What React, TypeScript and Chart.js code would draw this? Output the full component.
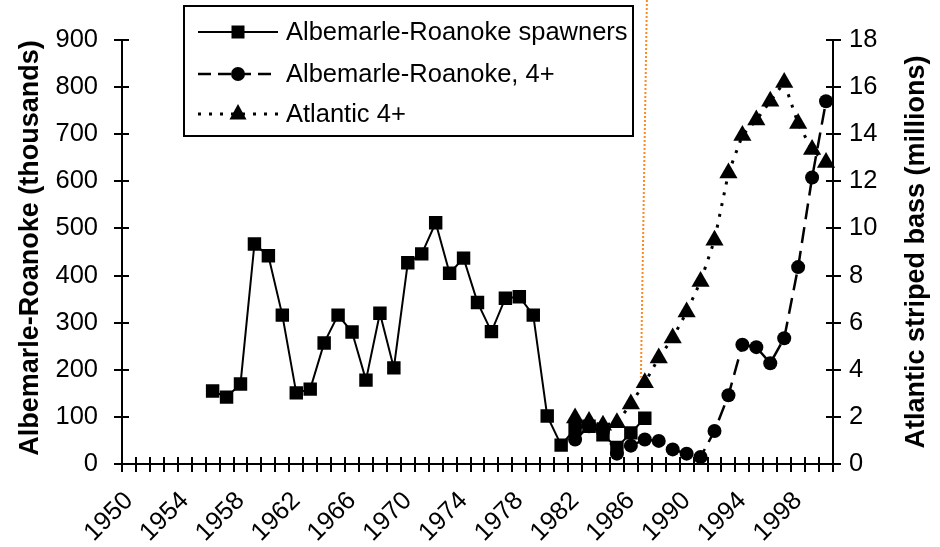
import React, { useEffect, useRef } from 'react';
import { Chart, registerables } from 'chart.js';

Chart.register(...registerables);

const FIRST_YEAR = 1950;
const LAST_YEAR = 2000;
const YEARS: string[] = Array.from({ length: LAST_YEAR - FIRST_YEAR + 1 }, (_, i) => String(FIRST_YEAR + i));
const SHOWN_YEAR_LABELS = ['1950', '1954', '1958', '1962', '1966', '1970', '1974', '1978', '1982', '1986', '1990', '1994', '1998'];

const LEFT_TICKS = [0, 100, 200, 300, 400, 500, 600, 700, 800, 900];
const RIGHT_TICKS = [0, 2, 4, 6, 8, 10, 12, 14, 16, 18];

// Albemarle-Roanoke spawners (thousands), 1956-1987
const SPAWNERS_START = 1956;
const SPAWNERS = [155, 142, 170, 467, 442, 316, 151, 159, 257, 316, 280, 178, 320, 204, 427, 446, 512, 405, 437, 343, 281, 352, 355, 316, 102, 40, 75, 80, 62, 35, 66, 97];

// Albemarle-Roanoke 4+ (thousands), 1982-2000
const AR4_START = 1982;
const AR4 = [52, 80, 70, 22, 39, 52, 49, 31, 22, 15, 70, 146, 253, 248, 214, 267, 418, 608, 770];

// Atlantic 4+ (millions), 1982-2000
const ATL_START = 1982;
const ATL = [1.95, 1.8, 1.65, 1.75, 2.55, 3.45, 4.5, 5.35, 6.45, 7.75, 9.5, 12.35, 13.95, 14.6, 15.4, 16.2, 14.45, 13.35, 12.8];

const LEGEND_LABELS = ['Albemarle-Roanoke spawners', 'Albemarle-Roanoke, 4+', 'Atlantic 4+'];
const LEFT_TITLE = 'Albemarle-Roanoke (thousands)';
const RIGHT_TITLE = 'Atlantic striped bass (millions)';

// orange dotted marker line: category index at top / bottom, and bottom value (left axis)
const MARK_TOP_INDEX = 37.15;
const MARK_BOTTOM_INDEX = 36.72;
const MARK_BOTTOM_VALUE = 183;

const FONT = "'Liberation Sans', Arial, Helvetica, sans-serif";

function place(start: number, values: number[]): (number | null)[] {
  const arr: (number | null)[] = YEARS.map(() => null);
  values.forEach((v, i) => {
    arr[start - FIRST_YEAR + i] = v;
  });
  return arr;
}

function drawMarker(ctx: CanvasRenderingContext2D, kind: string, x: number, y: number) {
  ctx.beginPath();
  if (kind === 'rect') {
    ctx.rect(x - 6.5, y - 6.5, 13, 13);
  } else if (kind === 'circle') {
    ctx.arc(x, y, 7, 0, Math.PI * 2);
  } else {
    ctx.moveTo(x, y - 10);
    ctx.lineTo(x + 8.5, y + 5.5);
    ctx.lineTo(x - 8.5, y + 5.5);
    ctx.closePath();
  }
  ctx.fill();
}

const decorPlugin = {
  id: 'decor',
  afterDraw(chart: any) {
    const ctx: CanvasRenderingContext2D = chart.ctx;
    const xs = chart.scales.x;
    const yl = chart.scales.y;
    const yr = chart.scales.y2;
    const area = chart.chartArea;
    ctx.save();
    // tick marks crossing the axes
    ctx.strokeStyle = '#000';
    ctx.lineWidth = 2;
    ctx.setLineDash([]);
    ctx.beginPath();
    LEFT_TICKS.forEach((v) => {
      const py = Math.round(yl.getPixelForValue(v));
      ctx.moveTo(area.left - 8, py);
      ctx.lineTo(area.left + 7, py);
    });
    RIGHT_TICKS.forEach((v) => {
      const py = Math.round(yr.getPixelForValue(v));
      ctx.moveTo(area.right - 7, py);
      ctx.lineTo(area.right + 8, py);
    });
    const n = YEARS.length;
    for (let i = 0; i <= n; i++) {
      const px = Math.round(xs.getPixelForValue(i - 0.5));
      ctx.moveTo(px, area.bottom - 7);
      ctx.lineTo(px, area.bottom + 8);
    }
    ctx.stroke();

    // orange dotted line
    ctx.strokeStyle = '#FF8A1C';
    ctx.lineWidth = 2;
    ctx.setLineDash([2, 2]);
    ctx.beginPath();
    ctx.moveTo(xs.getPixelForValue(MARK_TOP_INDEX), 0);
    ctx.lineTo(xs.getPixelForValue(MARK_BOTTOM_INDEX), yl.getPixelForValue(MARK_BOTTOM_VALUE));
    ctx.stroke();
    ctx.setLineDash([]);

    // axis titles
    ctx.fillStyle = '#000';
    ctx.font = `bold 27px ${FONT}`;
    ctx.textAlign = 'center';
    ctx.textBaseline = 'middle';
    const midY = (area.top + area.bottom) / 2;
    ctx.save();
    ctx.translate(31, midY - 4);
    ctx.rotate(-Math.PI / 2);
    ctx.fillText(LEFT_TITLE, 0, 0);
    ctx.restore();
    ctx.save();
    ctx.translate(917, midY);
    ctx.rotate(-Math.PI / 2);
    ctx.fillText(RIGHT_TITLE, 0, 0);
    ctx.restore();

    // legend box
    const bx = 184, by = 6, bw = 449, bh = 130;
    ctx.fillStyle = '#fff';
    ctx.fillRect(bx, by, bw, bh);
    ctx.strokeStyle = '#000';
    ctx.lineWidth = 2;
    ctx.strokeRect(bx, by, bw, bh);
    const rows = [32, 74, 114];
    const dashes = [[], [13, 7], [3, 8]];
    const widths = [2, 2.5, 3];
    const kinds = ['rect', 'circle', 'triangle'];
    rows.forEach((ry, i) => {
      ctx.strokeStyle = '#000';
      ctx.lineWidth = widths[i];
      ctx.setLineDash(dashes[i]);
      ctx.beginPath();
      ctx.moveTo(198, ry);
      ctx.lineTo(278, ry);
      ctx.stroke();
      ctx.setLineDash([]);
      ctx.fillStyle = '#000';
      drawMarker(ctx, kinds[i], 238, ry);
      ctx.font = `25.5px ${FONT}`;
      ctx.textAlign = 'left';
      ctx.textBaseline = 'middle';
      ctx.fillText(LEGEND_LABELS[i], 286, ry + 1);
    });
    ctx.restore();
  },
};

export default function App() {
  const canvasRef = useRef<HTMLCanvasElement | null>(null);

  useEffect(() => {
    document.body.style.margin = '0';
    const canvas = canvasRef.current;
    if (!canvas) return;
    const tickFont = { family: FONT, size: 25.5 };
    const chart = new Chart(canvas, {
      type: 'line',
      data: {
        labels: YEARS,
        datasets: [
          {
            label: LEGEND_LABELS[0],
            data: place(SPAWNERS_START, SPAWNERS),
            yAxisID: 'y',
            borderColor: '#000',
            backgroundColor: '#000',
            borderWidth: 2,
            pointStyle: 'rect',
            pointRadius: 9.5,
            pointBorderWidth: 0,
            tension: 0,
            spanGaps: false,
          },
          {
            label: LEGEND_LABELS[1],
            data: place(AR4_START, AR4),
            yAxisID: 'y',
            borderColor: '#000',
            backgroundColor: '#000',
            borderWidth: 2.5,
            borderDash: [16, 8],
            pointStyle: 'circle',
            pointRadius: 7,
            pointBorderWidth: 0,
            tension: 0,
          },
          {
            label: LEGEND_LABELS[2],
            data: place(ATL_START, ATL),
            yAxisID: 'y2',
            borderColor: '#000',
            backgroundColor: '#000',
            borderWidth: 3,
            borderDash: [3, 8],
            pointStyle: 'triangle',
            pointRadius: 10.5,
            pointBorderWidth: 0,
            tension: 0,
          },
        ],
      },
      options: {
        responsive: false,
        animation: false,
        layout: { padding: { top: 40, left: 0, right: 0, bottom: 0 } },
        plugins: {
          legend: { display: false },
          tooltip: { enabled: false },
        },
        scales: {
          x: {
            type: 'category',
            offset: true,
            grid: { display: false },
            border: { display: true, color: '#000', width: 2 },
            ticks: {
              autoSkip: false,
              maxRotation: 45,
              minRotation: 45,
              padding: 14,
              color: '#000',
              font: tickFont,
              callback: (_v: any, idx: number) => (SHOWN_YEAR_LABELS.includes(YEARS[idx]) ? YEARS[idx] : ''),
            },
            afterFit: (s: any) => {
              s.height = 83;
            },
          },
          y: {
            position: 'left',
            min: 0,
            max: 900,
            grid: { display: false },
            border: { display: true, color: '#000', width: 2 },
            ticks: { stepSize: 100, padding: 16, color: '#000', font: tickFont },
            afterFit: (s: any) => {
              s.width = 122;
            },
          },
          y2: {
            position: 'right',
            min: 0,
            max: 18,
            grid: { display: false },
            border: { display: true, color: '#000', width: 2 },
            ticks: { stepSize: 2, padding: 8, color: '#000', font: tickFont },
            afterFit: (s: any) => {
              s.width = 107;
            },
          },
        },
      },
      plugins: [decorPlugin],
    } as any);
    return () => chart.destroy();
  }, []);

  return (
    <div style={{ position: 'absolute', left: 0, top: 0, width: 940, height: 547, background: '#fff' }}>
      <canvas ref={canvasRef} width={940} height={547} style={{ display: 'block' }} />
    </div>
  );
}
